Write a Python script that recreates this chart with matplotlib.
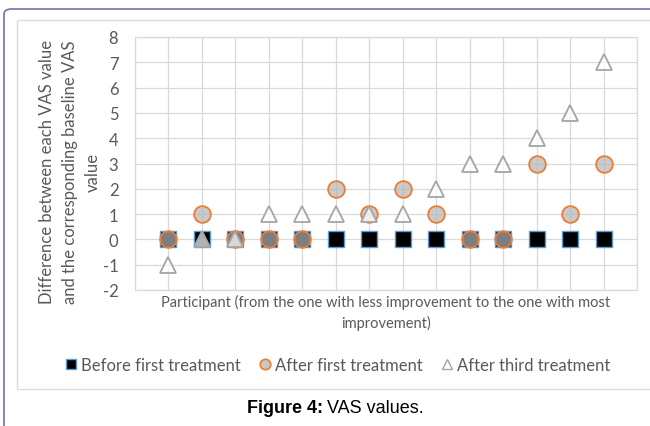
import matplotlib.pyplot as plt
from matplotlib.lines import Line2D
from matplotlib.patches import FancyBboxPatch, Rectangle

participants = list(range(1, 15))
before_first = [0, 0, 0, 0, 0, 0, 0, 0, 0, 0, 0, 0, 0, 0]
after_first = [0, 1, 0, 0, 0, 2, 1, 2, 1, 0, 0, 3, 1, 3]
after_third = [-1, 0, 0, 1, 1, 1, 1, 1, 2, 3, 3, 4, 5, 7]

series_names = ["Before first treatment", "After first treatment", "After third treatment"]
y_ticks = list(range(-2, 9))

TEXT = "#595959"
GRID = "#d9d9d9"
W, H = 650, 427

plt.rcParams["axes.unicode_minus"] = False


def px(x, y):
    # pixel position (from top-left) -> figure fraction
    return x / W, 1 - y / H


fig = plt.figure(figsize=(6.5, 4.27), dpi=100)
fig.patch.set_facecolor("white")

# page frame (purple, rounded top-left) and the chart area box
fig.patches.append(FancyBboxPatch((4 / W, -0.2), 1.2, (427 - 10) / H + 0.2,
                                  boxstyle="round,pad=0,rounding_size=0.012",
                                  transform=fig.transFigure, fill=False,
                                  edgecolor="#7f79b5", linewidth=1.3, zorder=0))
fig.patches.append(Rectangle((17 / W, (427 - 390) / H), 1.0, (390 - 21) / H,
                             transform=fig.transFigure, fill=False,
                             edgecolor="#dcdcdc", linewidth=1.0, zorder=0))

ax = fig.add_axes([135 / W, (427 - 291) / H, (637 - 135) / W, (291 - 38) / H])
ax.set_xlim(0, 15)
ax.set_ylim(-2, 8)
ax.set_yticks(y_ticks)
ax.set_xticks(range(0, 16))
ax.set_xticklabels([])
ax.grid(True, color=GRID, linewidth=0.9)
ax.set_axisbelow(True)
ax.tick_params(length=0, labelsize=12, labelcolor=TEXT, pad=12)
for s in ax.spines.values():
    s.set_color(GRID)
    s.set_linewidth(0.9)
for lab in ax.get_yticklabels():
    lab.set_family("Lato")

ax.plot(participants, before_first, linestyle="none", marker="s", markersize=11.5,
        markerfacecolor="black", markeredgecolor="#5b9bd5", markeredgewidth=1.0, zorder=3)
ax.plot(participants, after_first, linestyle="none", marker="o", markersize=12,
        markerfacecolor=(0.71, 0.71, 0.71, 0.7), markeredgecolor="#ed7d31",
        markeredgewidth=1.3, zorder=4)
ax.plot(participants, after_third, linestyle="none", marker="^", markersize=12,
        markerfacecolor=(1, 1, 1, 0.7), markeredgecolor="#a5a5a5",
        markeredgewidth=1.3, zorder=5)

fig.text(*px(70, 172), "Difference between each VAS value\nand the corresponding baseline VAS\nvalue",
         rotation=90, ha="center", va="center", multialignment="center",
         fontsize=12, color=TEXT, family="Lato", linespacing=1.5)
fig.text(*px(386, 313), "Participant (from the one with less improvement to the one with most\nimprovement)",
         ha="center", va="center", multialignment="center",
         fontsize=10.5, color=TEXT, family="Lato", linespacing=1.45)

handles = [
    Line2D([], [], linestyle="none", marker="s", markersize=7.5, markerfacecolor="black",
           markeredgecolor="#5b9bd5", markeredgewidth=1.0),
    Line2D([], [], linestyle="none", marker="o", markersize=7.5, markerfacecolor="#c8c8c8",
           markeredgecolor="#ed7d31", markeredgewidth=1.2),
    Line2D([], [], linestyle="none", marker="^", markersize=7.5, markerfacecolor="white",
           markeredgecolor="#a5a5a5", markeredgewidth=1.0),
]
leg = fig.legend(handles, series_names, loc="center", bbox_to_anchor=px(338, 366),
                 ncol=3, frameon=False, handlelength=0.7, handletextpad=0.25,
                 columnspacing=1.1, prop={"family": "Lato", "size": 12})
for t in leg.get_texts():
    t.set_color(TEXT)

fig.text(*px(323, 409), "Figure 4:", ha="right", va="center",
         fontsize=13, family="Liberation Sans", weight="bold", color="black")
fig.text(*px(327, 409), "VAS values.", ha="left", va="center",
         fontsize=13, family="Liberation Sans", color="black")

fig.savefig("out.png", dpi=100)
